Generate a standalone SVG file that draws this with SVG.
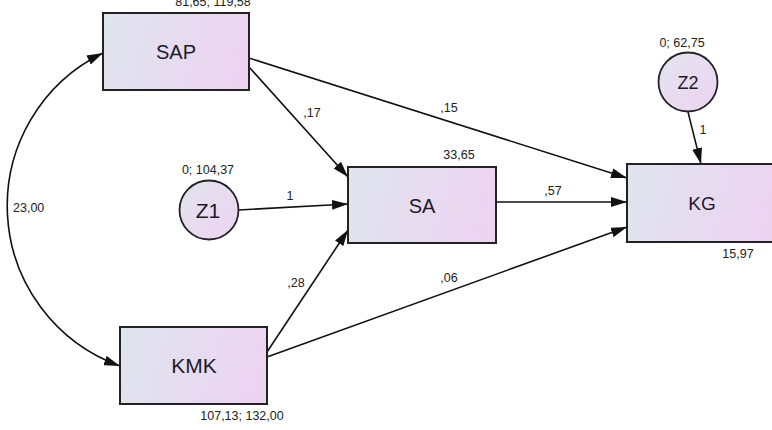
<svg xmlns="http://www.w3.org/2000/svg" width="772" height="430" viewBox="0 0 772 430">
<defs>
<linearGradient id="gBox" x1="0" y1="0" x2="1" y2="0.15">
<stop offset="0" stop-color="#dfe5ee"/>
<stop offset="1" stop-color="#ecd4f1"/>
</linearGradient>
<linearGradient id="gCirc" x1="0" y1="0" x2="1" y2="1">
<stop offset="0" stop-color="#e2e4ef"/>
<stop offset="1" stop-color="#edd3f1"/>
</linearGradient>
<marker id="ah" viewBox="0 0 16 10" refX="16" refY="5" markerWidth="16" markerHeight="10" markerUnits="userSpaceOnUse" orient="auto-start-reverse">
<path d="M0,0 L16,5 L0,10 z" fill="#111"/>
</marker>
</defs>
<style>
.box{fill:url(#gBox);stroke:#222;stroke-width:2}
.circ{fill:url(#gCirc);stroke:#222;stroke-width:1.8}
.lbl{font-family:"Liberation Sans",Arial,sans-serif;font-size:20px;fill:#1e1a2a;text-anchor:middle}
.num{font-family:"Liberation Sans",Arial,sans-serif;font-size:12.5px;fill:#222;text-anchor:middle}
.edge{fill:none;stroke:#111;stroke-width:1.6;marker-end:url(#ah)}
</style>
<rect width="772" height="430" fill="#fff"/>
<g id="connectors">
<path class="edge" d="M103,53 A170,170 0 0,0 120,366" marker-start="url(#ah)"/>
<line class="edge" x1="249" y1="67" x2="348" y2="177"/>
<line class="edge" x1="249" y1="58" x2="627" y2="178"/>
<line class="edge" x1="239" y1="210" x2="348" y2="204"/>
<line class="edge" x1="496" y1="202" x2="627" y2="202"/>
<line class="edge" x1="267" y1="352" x2="348" y2="230"/>
<line class="edge" x1="267" y1="357" x2="627" y2="227"/>
<line class="edge" x1="688" y1="112" x2="701" y2="164"/>
<text class="num" x="312" y="117">,17</text>
<text class="num" x="449" y="112">,15</text>
<text class="num" x="290" y="200">1</text>
<text class="num" x="553" y="195">,57</text>
<text class="num" x="296" y="287">,28</text>
<text class="num" x="449" y="282">,06</text>
<text class="num" x="703" y="134">1</text>
<text class="num" x="13" y="212" style="text-anchor:start">23,00</text>
</g>
<g id="SAP">
<rect class="box" x="103" y="13" width="146" height="77"/>
<text class="lbl" x="176" y="59">SAP</text>
<text class="num" x="213" y="6">81,65; 119,58</text>
</g>
<g id="SA">
<rect class="box" x="348" y="167" width="148" height="76"/>
<text class="lbl" x="422" y="213">SA</text>
<text class="num" x="459" y="159">33,65</text>
</g>
<g id="KG">
<rect class="box" x="627" y="164" width="150" height="78"/>
<text class="lbl" x="702" y="210" style="font-size:19px">KG</text>
<text class="num" x="738" y="258">15,97</text>
</g>
<g id="KMK">
<rect class="box" x="120" y="327" width="147" height="77"/>
<text class="lbl" x="194" y="373" style="font-size:21px">KMK</text>
<text class="num" x="242" y="420">107,13; 132,00</text>
</g>
<g id="Z1">
<circle class="circ" cx="209" cy="210" r="29.5"/>
<text class="lbl" x="208" y="218" style="font-size:21px">Z1</text>
<text class="num" x="208" y="174">0; 104,37</text>
</g>
<g id="Z2">
<circle class="circ" cx="688" cy="82" r="29.5"/>
<text class="lbl" x="688" y="89" style="font-size:18px">Z2</text>
<text class="num" x="682" y="47">0; 62,75</text>
</g>
</svg>
